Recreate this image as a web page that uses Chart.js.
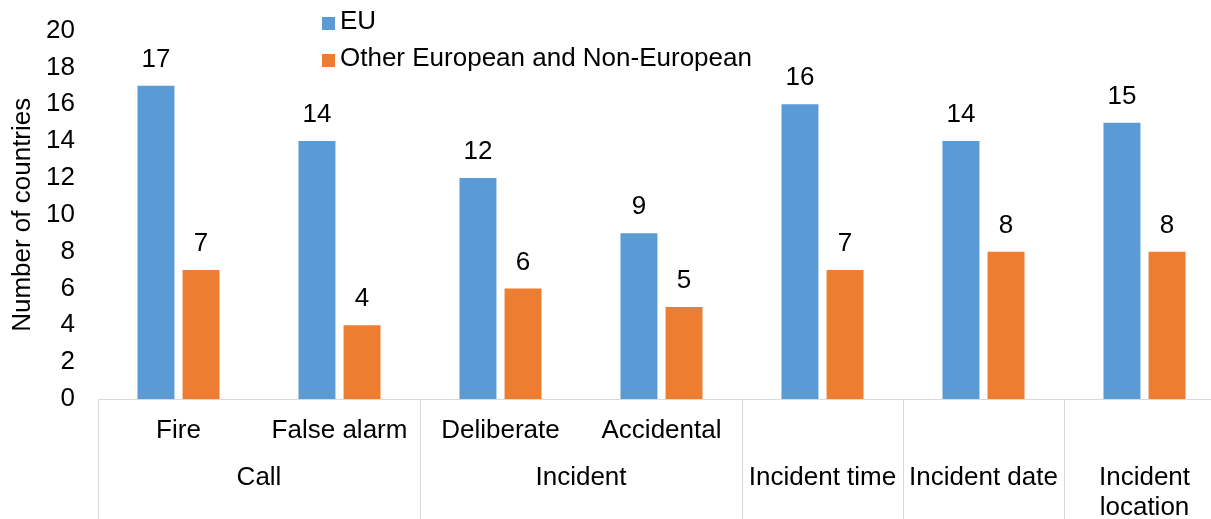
<!DOCTYPE html>
<html>
<head>
<meta charset="utf-8">
<script src="https://cdn.jsdelivr.net/npm/chart.js@4"></script>
<style>
  html, body { margin: 0; padding: 0; background: #fff; overflow: hidden; }
  #wrap { width: 1230px; height: 519px; }
</style>
</head>
<body>
<div id="wrap"><canvas id="mychart" width="1230" height="519"></canvas></div>
<script>
// categories and their parent groups
const subLabels = ['Fire', 'False alarm', 'Deliberate', 'Accidental', '', '', ''];
const groupLabels = ['Call', 'Incident', ['Incident time'], ['Incident date'], ['Incident', 'location']];
const groupSpans = [2, 2, 1, 1, 1];

// series values
const euValues = [17, 14, 12, 9, 16, 14, 15];
const otherValues = [7, 4, 6, 5, 7, 8, 8];
const seriesNames = ['EU', 'Other European and Non-European'];

const yTicks = [0, 2, 4, 6, 8, 10, 12, 14, 16, 18, 20];

const FONT = 'Liberation Sans, Arial, sans-serif';
const SIZE = 26;

// draws value labels, the multi-level category axis and the legend
const extras = {
    id: 'extras',
    afterDatasetsDraw(chart) {
        const ctx = chart.ctx;
        const x = chart.scales.x;
        const area = chart.chartArea;
        ctx.save();
        ctx.font = SIZE + 'px ' + FONT;
        ctx.fillStyle = '#000';
        ctx.textAlign = 'center';
        ctx.textBaseline = 'middle';

        // value labels above bars
        chart.data.datasets.forEach((ds, i) => {
            chart.getDatasetMeta(i).data.forEach((bar, j) => {
                ctx.fillText(ds.data[j], bar.x, bar.y - 26);
            });
        });

        // axis line
        ctx.strokeStyle = '#d9d9d9';
        ctx.lineWidth = 1;
        ctx.beginPath();
        ctx.moveTo(area.left, area.bottom + 0.5);
        ctx.lineTo(area.right, area.bottom + 0.5);
        ctx.stroke();

        const half = (x.getPixelForValue(1) - x.getPixelForValue(0)) / 2;

        // sub labels
        subLabels.forEach((lab, i) => {
            if (lab) ctx.fillText(lab, x.getPixelForValue(i), area.bottom + 32);
        });

        // group separators and labels
        let idx = 0;
        const bounds = [x.getPixelForValue(0) - half];
        groupLabels.forEach((g, k) => {
            const first = idx;
            const last = idx + groupSpans[k] - 1;
            const cx = (x.getPixelForValue(first) + x.getPixelForValue(last)) / 2;
            const lines = Array.isArray(g) ? g : [g];
            lines.forEach((ln, n) => {
                ctx.fillText(ln, cx, area.bottom + 79 + n * 30);
            });
            idx += groupSpans[k];
            bounds.push(x.getPixelForValue(last) + half);
        });
        ctx.beginPath();
        bounds.forEach(b => {
            const bx = Math.round(b) + 0.5;
            ctx.moveTo(bx, area.bottom);
            ctx.lineTo(bx, chart.height);
        });
        ctx.stroke();

        // legend
        ctx.textAlign = 'left';
        chart.data.datasets.forEach((ds, i) => {
            const ly = 22 + i * 37;
            ctx.fillStyle = ds.backgroundColor;
            ctx.fillRect(322, ly - 5, 13, 13);
            ctx.fillStyle = '#000';
            ctx.fillText(ds.label, 340, ly);
        });
        ctx.restore();
    }
};

const ctx = document.getElementById('mychart').getContext('2d');
const chart = new Chart(ctx, {
    type: 'bar',
    data: {
        labels: subLabels,
        datasets: [{
            label: seriesNames[0],
            data: euValues,
            backgroundColor: '#5b9bd5',
            barPercentage: 0.82,
            categoryPercentage: 0.56
        }, {
            label: seriesNames[1],
            data: otherValues,
            backgroundColor: '#ed7d31',
            barPercentage: 0.82,
            categoryPercentage: 0.56
        }]
    },
    options: {
        responsive: false,
        animation: false,
        layout: { padding: { top: 26, bottom: 120, left: 0, right: 5 } },
        plugins: {
            legend: { display: false },
            tooltip: { enabled: false }
        },
        scales: {
            x: { display: false },
            y: {
                min: 0,
                max: 20,
                afterFit: (scale) => { scale.width = 98; },
                afterBuildTicks: (scale) => { scale.ticks = yTicks.map(v => ({ value: v })); },
                grid: { display: false },
                border: { display: false },
                ticks: {
                    color: '#000',
                    font: { family: FONT, size: SIZE },
                    padding: 15
                },
                title: {
                    display: true,
                    text: 'Number of countries',
                    color: '#000',
                    font: { family: FONT, size: SIZE },
                    padding: { top: 7, bottom: 0 }
                }
            }
        }
    },
    plugins: [extras]
});
</script>
</body>
</html>
